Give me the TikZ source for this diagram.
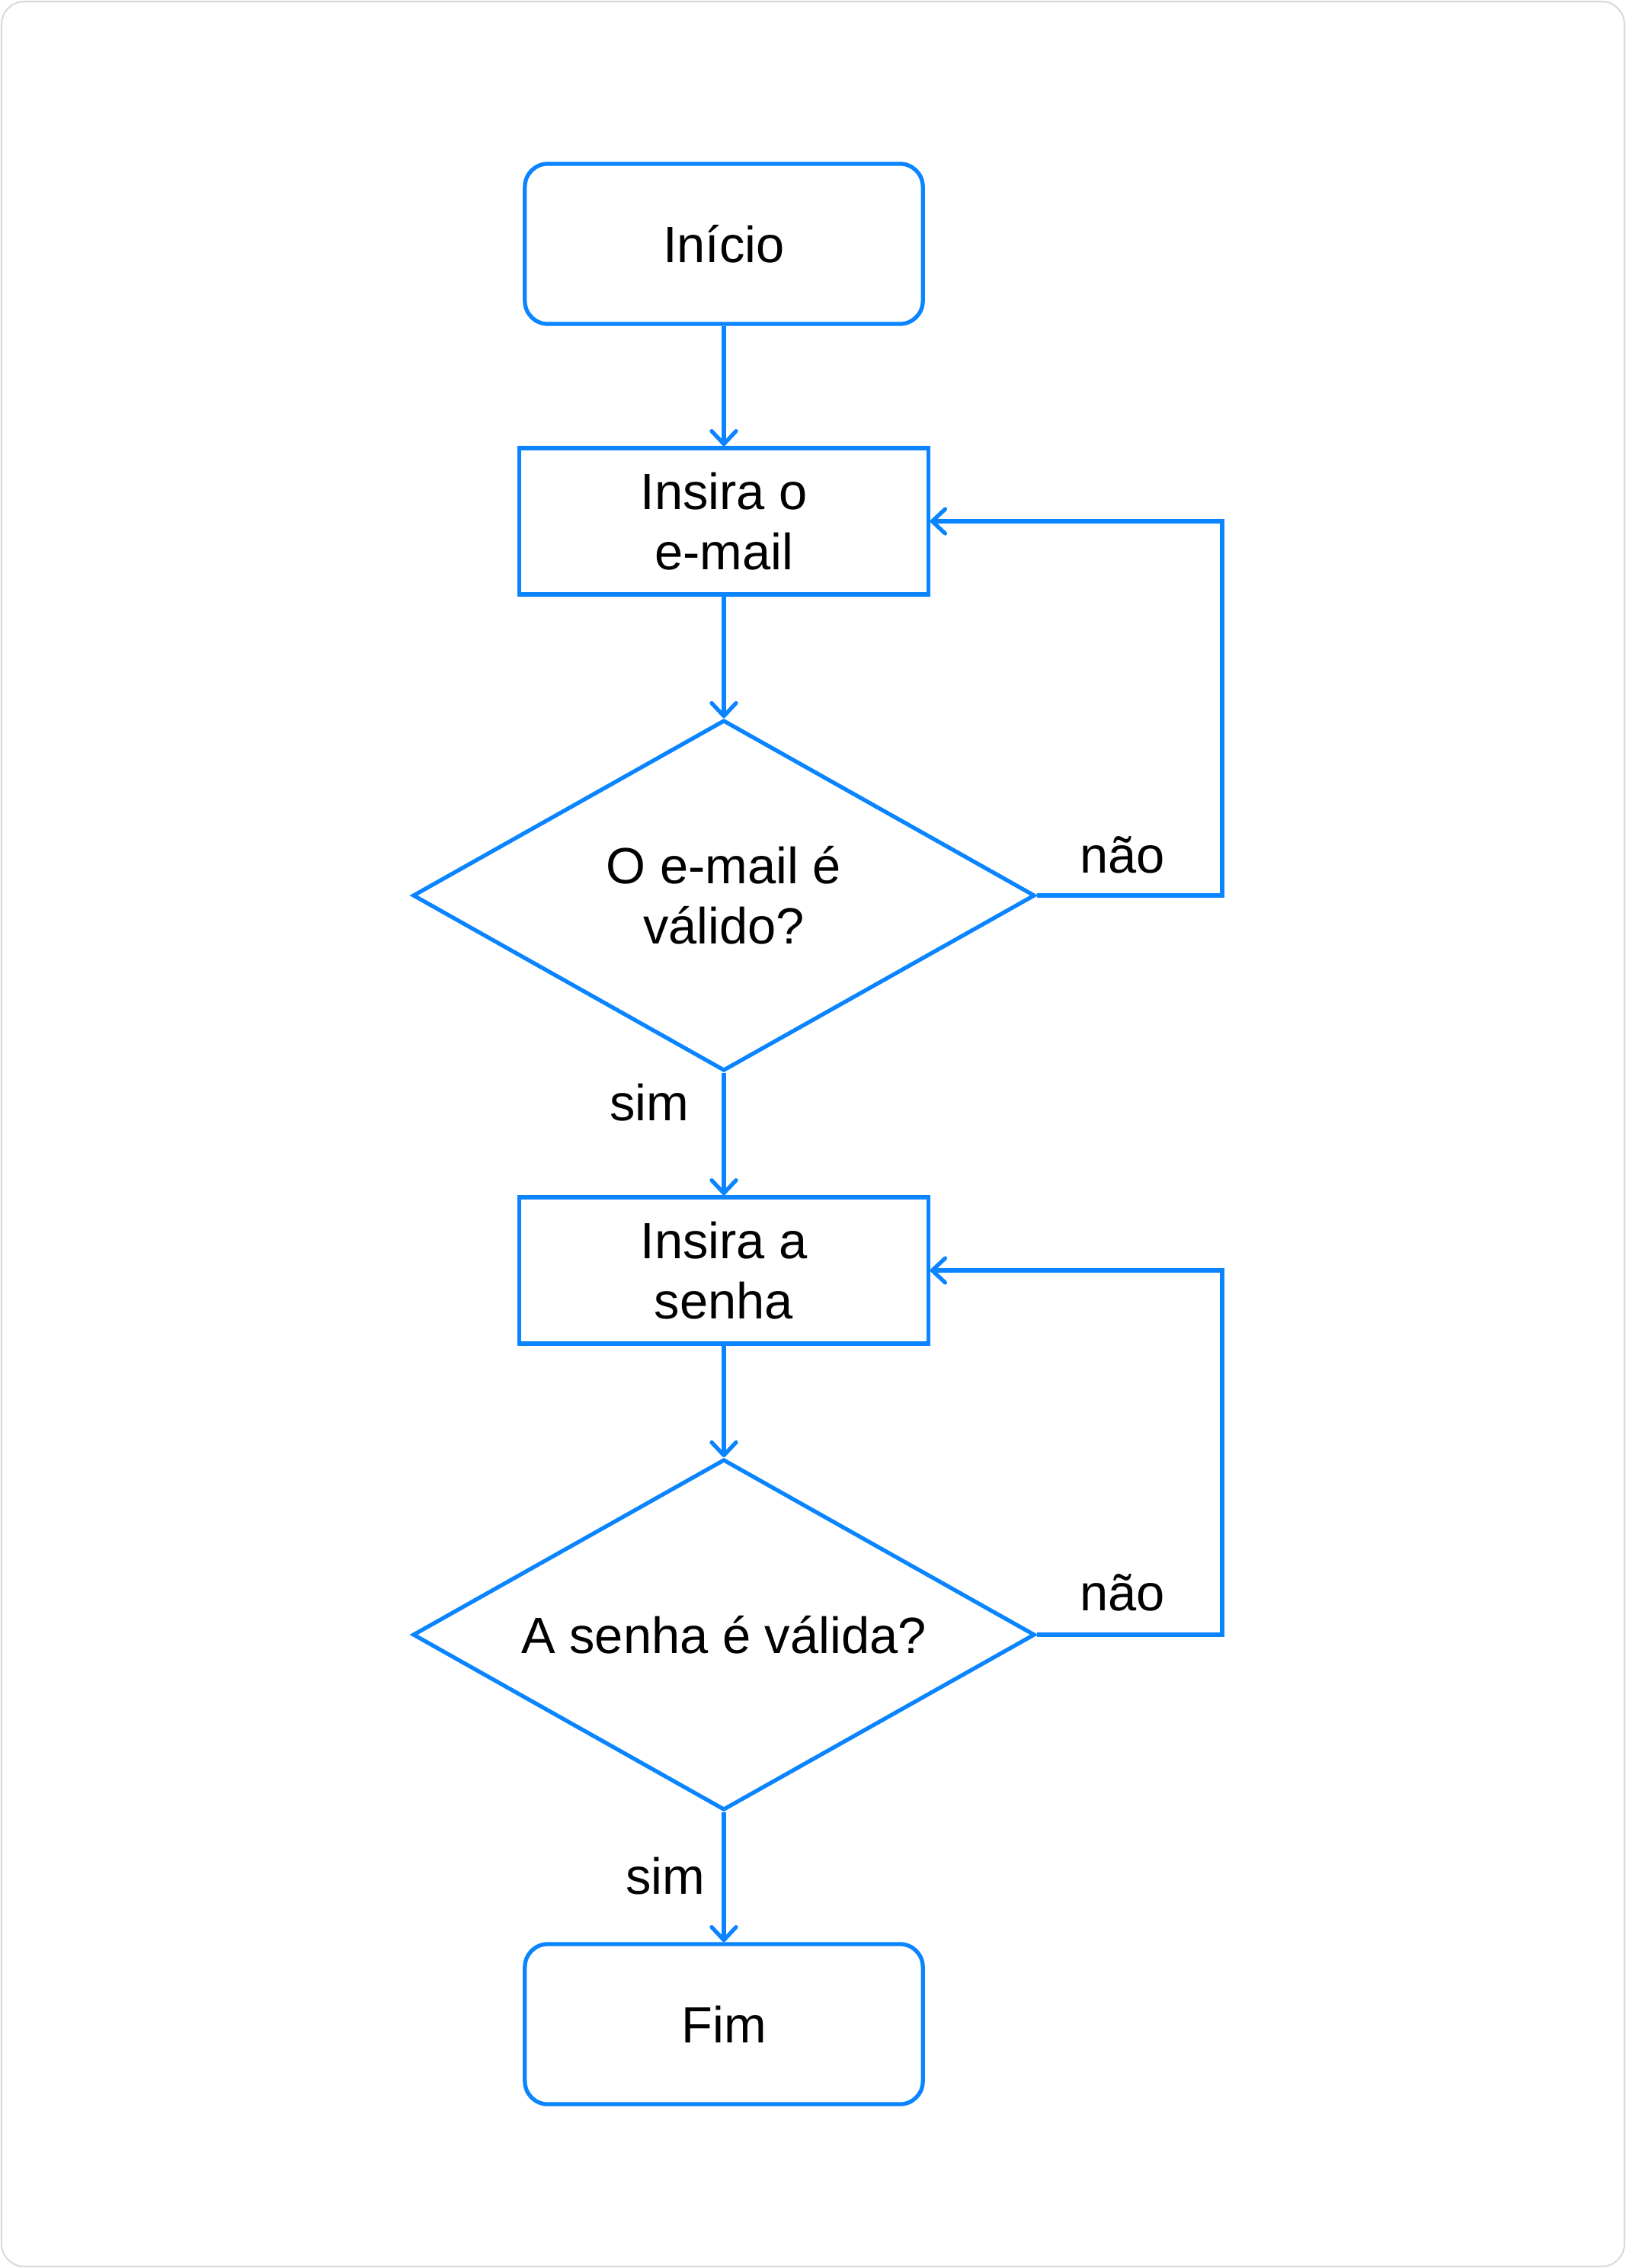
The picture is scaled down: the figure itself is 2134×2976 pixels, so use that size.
\documentclass[tikz,border=0pt]{standalone}
\usepackage{fontspec}
\setmainfont{Liberation Sans}
\usetikzlibrary{shapes.geometric,positioning,arrows.meta}
\definecolor{flowblue}{HTML}{0A84FF}
\definecolor{framegray}{HTML}{DADADA}

\begin{document}
\begin{tikzpicture}[
      x=0.01cm,
      y=-0.01cm,
      every node/.style={
        font=\fontsize{19}{22.5}\selectfont,
        text=black,
        align=center
      },
      terminal/.style={
        draw=flowblue,
        line width=1.5pt,
        rounded corners=3mm,
        minimum width=5.22cm,
        minimum height=2.1cm
      },
      process/.style={
        draw=flowblue,
        line width=1.5pt,
        minimum width=5.36cm,
        minimum height=1.92cm
      },
      decision/.style={
        diamond,
        draw=flowblue,
        line width=1.5pt,
        inner sep=0pt,
        aspect=1.77,
        minimum width=8.16cm,
        minimum height=4.6cm
      },
      flow/.style={
        draw=flowblue,
        line width=1.5pt,
        -{Straight Barb[length=1.7mm,width=3.2mm,round]}
      },
      lbl/.style={inner sep=0pt}
    ]
      \useasboundingbox (0,0) rectangle (2134,2976);
      \draw[framegray, line width=0.6pt, rounded corners=3mm]
        (2,2) rectangle (2132,2974);

      \node[terminal] (start) at (950,320) {Início};
      \node[process] (email) at (950,684) {Insira o\\e-mail};
      \node[decision] (chkemail) at (950,1175) {O e-mail é\\válido?};
      \node[process] (senha) at (950,1667) {Insira a\\senha};
      \node[decision] (chksenha) at (950,2145) {A senha é válida?};
      \node[terminal] (fim) at (950,2656) {Fim};

      \coordinate (back1) at (1604,684);
      \coordinate (back2) at (1604,1667);

      \draw[flow] (start) -- (email);
      \draw[flow] (email) -- (chkemail);
      \draw[flow] (chkemail) -- (senha);
      \draw[flow] (senha) -- (chksenha);
      \draw[flow] (chksenha) -- (fim);

      \draw[flow] (chkemail.east) -| (back1) -- (email.east);
      \draw[flow] (chksenha.east) -| (back2) -- (senha.east);

      \node[lbl] (no1) at (1473,1122) {não};
      \node[lbl] (yes1) at (852,1447) {sim};
      \node[lbl] (no2) at (1473,2090) {não};
      \node[lbl] (yes2) at (873,2462) {sim};
    \end{tikzpicture}
\end{document}
